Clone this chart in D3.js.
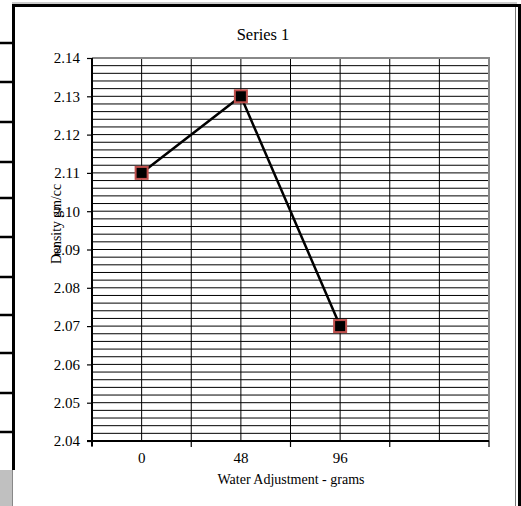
<!DOCTYPE html>
<html>
<head>
<meta charset="utf-8">
<script src="https://cdn.jsdelivr.net/npm/d3@7"></script>
<style>
body{margin:0;background:#fff;}
svg{display:block;font-family:"Liberation Serif","Times New Roman",serif;}
</style>
</head>
<body>
<div id="chart"></div>
<script>
var width = 521,
	height = 506,
	margin = {top:58, right:32, bottom:65, left:92};

// chart data
var categories = ["0","48","96",""];
var density = [2.11, 2.13, 2.07];
var yTicks = [2.04,2.05,2.06,2.07,2.08,2.09,2.10,2.11,2.12,2.13,2.14];
var yMinor = d3.range(0,51).map(function(i){return 2.04 + i*0.002});
var title = "Series 1",
	xTitle = "Water Adjustment  - grams",
	yTitle = "Density gm/cc";

// page decoration (table rows behind the chart)
var rowLines = [43,82,122,162,198,237,277,315,353,393,432];

var svg = d3.select("#chart").append("svg")
	.attr("width",width)
	.attr("height",height);

var x = d3.scaleBand().domain(categories).range([margin.left, width-margin.right]).padding(0);
var y = d3.scaleLinear().domain([2.04,2.14]).range([height-margin.bottom, margin.top]);

// page frame
svg.append("rect").attr("x",0).attr("y",470).attr("width",12).attr("height",36).attr("fill","#c0c0c0");
svg.append("line").attr("x1",12).attr("x2",517).attr("y1",3).attr("y2",3).attr("stroke","#999").attr("stroke-width",1);
svg.append("line").attr("x1",12).attr("x2",518).attr("y1",5.5).attr("y2",5.5).attr("stroke","#000").attr("stroke-width",3);
svg.append("line").attr("x1",13.5).attr("x2",13.5).attr("y1",4).attr("y2",470).attr("stroke","#000").attr("stroke-width",3);
svg.append("line").attr("x1",12.5).attr("x2",12.5).attr("y1",470).attr("y2",506).attr("stroke","#888").attr("stroke-width",1);
svg.append("line").attr("x1",515.5).attr("x2",515.5).attr("y1",7).attr("y2",506).attr("stroke","#777").attr("stroke-width",1);
svg.append("line").attr("x1",519.5).attr("x2",519.5).attr("y1",4).attr("y2",506).attr("stroke","#000").attr("stroke-width",3);
svg.selectAll(".row").data(rowLines).enter().append("line")
	.attr("x1",0).attr("x2",13).attr("y1",function(d){return d}).attr("y2",function(d){return d})
	.attr("stroke","#000").attr("stroke-width",2.5);

// gridlines
var grid = svg.append("g");
grid.selectAll(".hg").data(yMinor).enter().append("line")
	.attr("x1",margin.left).attr("x2",width-margin.right)
	.attr("y1",function(d){return y(d)}).attr("y2",function(d){return y(d)})
	.attr("stroke","#000").attr("stroke-width",1);

var xLines = [];
categories.forEach(function(c){ xLines.push(x(c)); xLines.push(x(c)+x.bandwidth()/2); });
grid.selectAll(".vg").data(xLines.slice(1)).enter().append("line")
	.attr("x1",function(d){return d}).attr("x2",function(d){return d})
	.attr("y1",margin.top).attr("y2",height-margin.bottom)
	.attr("stroke","#000").attr("stroke-width",1);

// plot border (top / right)
svg.append("path")
	.attr("d","M"+margin.left+","+margin.top+"H"+(width-margin.right)+"V"+(height-margin.bottom))
	.attr("fill","none").attr("stroke","#888").attr("stroke-width",2);

// y axis
var yAxis = svg.append("g").attr("transform","translate("+margin.left+",0)")
	.call(d3.axisLeft(y).tickValues(yTicks).tickSize(5).tickPadding(7).tickFormat(d3.format(".2f")));
yAxis.select(".domain").remove();
yAxis.selectAll(".tick line").attr("stroke","#000").attr("stroke-width",1.2);
yAxis.selectAll(".tick text").attr("font-size","15px").attr("fill","#000")
	.attr("font-family","Liberation Serif");
svg.append("line").attr("x1",margin.left).attr("x2",margin.left)
	.attr("y1",margin.top).attr("y2",height-margin.bottom+5)
	.attr("stroke","#000").attr("stroke-width",2);

// x axis
svg.append("line").attr("x1",margin.left-5).attr("x2",width-margin.right)
	.attr("y1",height-margin.bottom).attr("y2",height-margin.bottom)
	.attr("stroke","#000").attr("stroke-width",2);
var xTickPos = categories.map(function(c){return x(c)+x.bandwidth()}).concat([margin.left]);
svg.selectAll(".xt").data(xTickPos).enter().append("line")
	.attr("x1",function(d){return d}).attr("x2",function(d){return d})
	.attr("y1",height-margin.bottom).attr("y2",height-margin.bottom+6)
	.attr("stroke","#000").attr("stroke-width",1.2);
svg.selectAll(".xl").data(categories).enter().append("text")
	.attr("x",function(d){return x(d)+x.bandwidth()/2})
	.attr("y",height-margin.bottom+22)
	.attr("text-anchor","middle").attr("font-size","15px")
	.text(function(d){return d});

// titles
svg.append("text").attr("x",263).attr("y",40).attr("text-anchor","middle")
	.attr("font-size","16.5px").text(title);
svg.append("text").attr("x",291).attr("y",484).attr("text-anchor","middle")
	.attr("font-size","14px").text(xTitle);
svg.append("text").attr("transform","translate(61,224) rotate(-90)").attr("text-anchor","middle")
	.attr("font-size","13.8px").text(yTitle);

// series
var pts = density.map(function(v,i){return {c:categories[i], v:v}});
var line = d3.line().x(function(d){return x(d.c)+x.bandwidth()/2}).y(function(d){return y(d.v)});
svg.append("path").datum(pts).attr("d",line)
	.attr("fill","none").attr("stroke","#000").attr("stroke-width",2.5);
svg.selectAll(".mk").data(pts).enter().append("rect")
	.attr("x",function(d){return x(d.c)+x.bandwidth()/2-6})
	.attr("y",function(d){return y(d.v)-6})
	.attr("width",12).attr("height",12)
	.attr("fill","#000").attr("stroke","#c0504d").attr("stroke-width",2);
</script>
</body>
</html>
